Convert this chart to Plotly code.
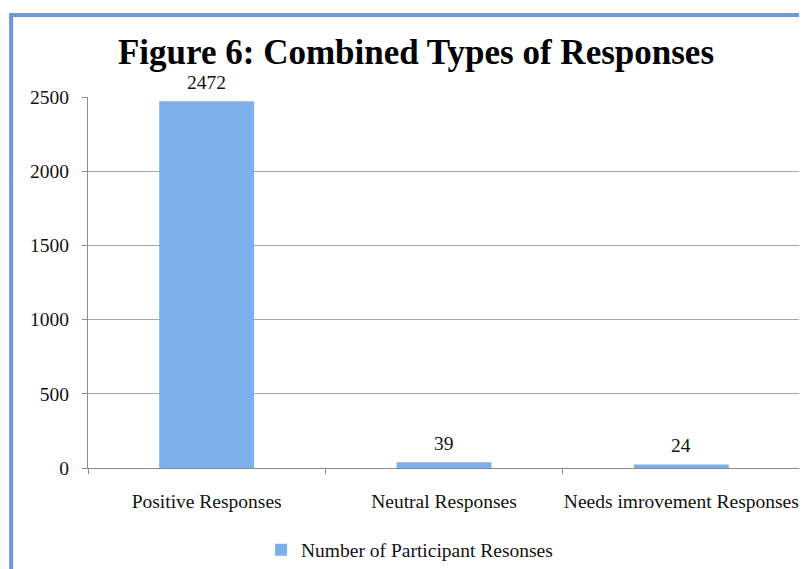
import plotly.graph_objects as go

categories = ["Positive Responses", "Neutral Responses", "Needs imrovement Responses"]
values = [2472, 39, 24]
series_name = "Number of Participant Resonses"
title_text = "<b>Figure 6: Combined Types of Responses</b>"
y_ticks = [0, 500, 1000, 1500, 2000, 2500]

FONT = "Liberation Serif, Times New Roman, serif"
FS = 19.5

W, H = 799, 561  # page body has an 8px margin inside the 807x569 window

fig = go.Figure()
fig.add_trace(go.Bar(
    x=categories, y=values, name=series_name,
    marker=dict(color="#7cafec", line=dict(width=0)),
    cliponaxis=False, width=0.4, showlegend=True,
))

for c, v in zip(categories, values):
    fig.add_annotation(x=c, y=v, text=str(v), showarrow=False,
                       yanchor="bottom", yshift=6,
                       font=dict(family=FONT, size=FS, color="#111"))

fig.update_layout(
    width=W, height=H,
    paper_bgcolor="white", plot_bgcolor="white",
    margin=dict(l=80, r=7, t=89, b=101, autoexpand=False),
    font=dict(family=FONT, size=FS, color="#111"),
    title=dict(text=title_text, x=408 / W, xanchor="center", y=1 - 44 / H,
               yanchor="middle", yref="container", automargin=False,
               font=dict(family=FONT, size=35, color="#000")),
    showlegend=True,
    legend=dict(orientation="h", x=0.243, xanchor="left", y=-0.221,
                yanchor="middle", font=dict(family=FONT, size=FS)),
    xaxis=dict(type="category", showline=True, linecolor="#8c8c8c", linewidth=1,
               ticks="outside", tickson="boundaries", ticklen=5, tickcolor="#8c8c8c",
               showgrid=False, ticklabelstandoff=16, tickangle=0, automargin=False,
               tickfont=dict(family=FONT, size=FS)),
    yaxis=dict(range=[0, 2500], tickvals=y_ticks, showline=True, linecolor="#8c8c8c",
               linewidth=1, ticks="outside", ticklen=5, tickcolor="#8c8c8c",
               showgrid=True, gridcolor="#a6a6a6", gridwidth=1, zeroline=False,
               ticklabelstandoff=9, automargin=False,
               tickfont=dict(family=FONT, size=FS)),
    shapes=[dict(type="rect", xref="paper", yref="paper",
                 x0=-0.108, x1=1.2, y0=-0.6, y1=1.221,
                 line=dict(color="#6a9bd8", width=4), layer="above")],
)

fig.write_html("out.html")
